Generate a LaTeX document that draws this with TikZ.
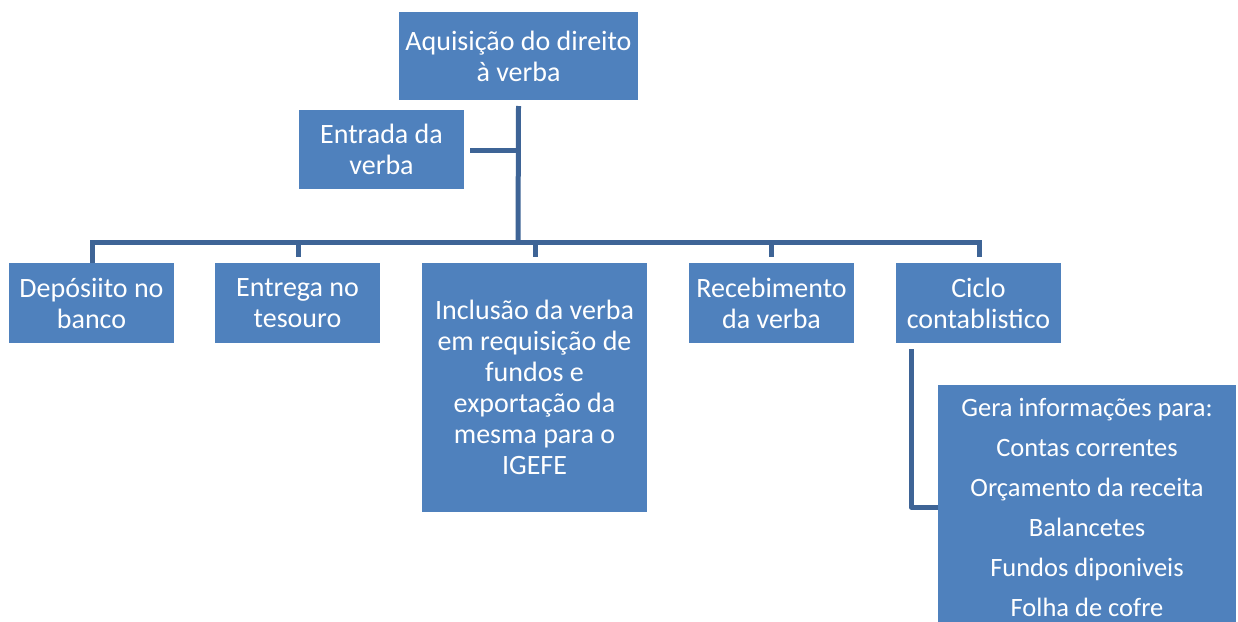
\documentclass[tikz,border=0pt]{standalone}
\usepackage{fontspec}
\setmainfont{Carlito}
\definecolor{boxblue}{HTML}{4F81BD}
\definecolor{lineblue}{HTML}{3E6496}
\begin{document}
\begin{tikzpicture}[x=1pt,y=-1pt,
  box/.style={rectangle, fill=boxblue, text=white, align=center, inner sep=0pt,
    font=\fontsize{28}{31}\selectfont},
  conn/.style={draw=lineblue, line width=5pt}]
\clip (0,0) rectangle (1238,621);
\fill[white] (0,0) rectangle (1238,621);
\node[box, minimum width=239, minimum height=88] (top) at (518.5,56) {Aquisição do direito\\à verba};
\node[box, minimum width=165, minimum height=79] (entrada) at (381.5,149.5) {Entrada da\\verba};
\node[box, minimum width=165, minimum height=80] (dep) at (91.5,303) {Depósiito no\\banco};
\node[box, minimum width=165, minimum height=80] (ent) at (297.5,303) {Entrega no\\tesouro};
\node[box, minimum width=225, minimum height=249] (incl) at (534.5,387.5) {Inclusão da verba\\em requisição de\\fundos e\\exportação da\\mesma para o\\IGEFE};
\node[box, minimum width=165, minimum height=80] (rec) at (771.5,303) {Recebimento\\da verba};
\node[box, minimum width=165, minimum height=80] (ciclo) at (978.5,303) {Ciclo\\contablistico};
\node[box, anchor=north, minimum width=298, minimum height=245, inner ysep=0,
  font=\fontsize{26.5}{40}\selectfont] (gera) at (1087,385)
  {Gera informações para:\\Contas correntes\\Orçamento da receita\\Balancetes\\Fundos diponiveis\\Folha de cofre};
% connectors
\coordinate (bus) at (518,242);
\draw[conn] (top.south |- 0,106) -- (bus);
\draw[conn] (entrada.east |- 0,150) ++(6,0) coordinate (e1) -- (518,150);
\draw[conn] (92,242) -- (979,242);
\draw[conn] (92,240) -- (dep.north -| 92,0) ++(0,-6);
\draw[conn] (298,240) -- (298,257);
\draw[conn] (535,240) -- (535,257);
\draw[conn] (771,240) -- (771,257);
\draw[conn] (979,240) -- (979,257);
\draw[conn, line join=round] (911,349) -- (911,507) -- (gera.west |- 0,507) ++(-5,0);
\end{tikzpicture}
\end{document}
